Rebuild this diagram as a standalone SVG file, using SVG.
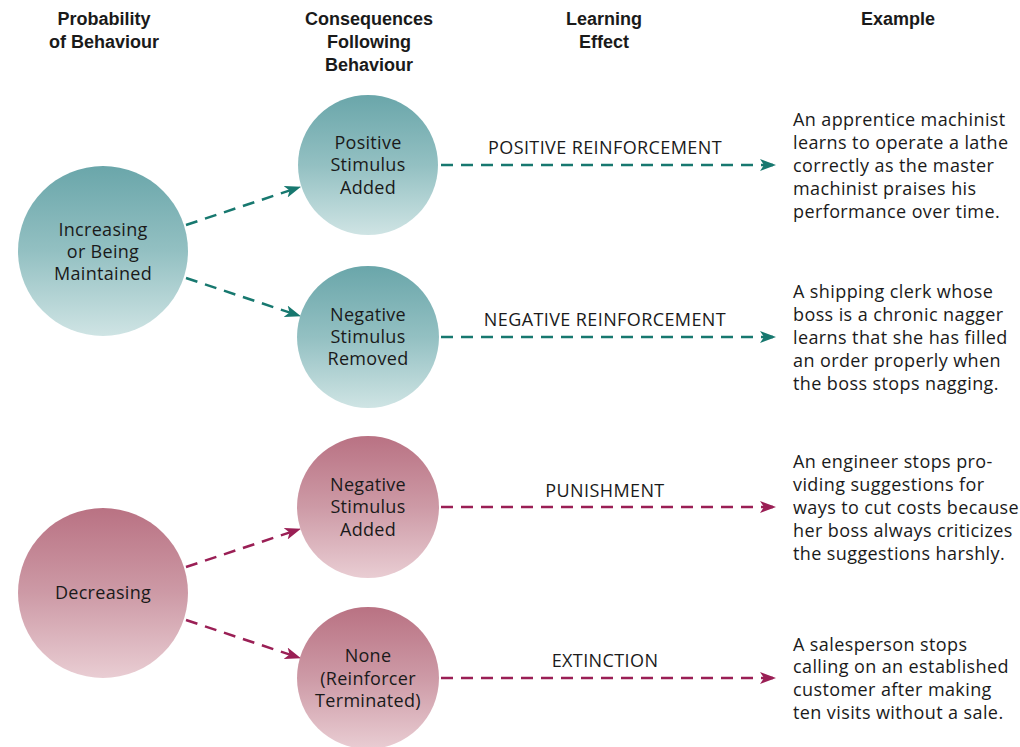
<svg xmlns="http://www.w3.org/2000/svg" width="1020" height="747" viewBox="0 0 1020 747">
<defs>
<linearGradient id="gTeal" x1="0" y1="0" x2="0" y2="1">
<stop offset="0" stop-color="#6aa6aa"/>
<stop offset="0.5" stop-color="#93c0c2"/>
<stop offset="1" stop-color="#cfe4e4"/>
</linearGradient>
<linearGradient id="gPink" x1="0" y1="0" x2="0" y2="1">
<stop offset="0" stop-color="#b97283"/>
<stop offset="0.5" stop-color="#cd9aa6"/>
<stop offset="1" stop-color="#e9cdd3"/>
</linearGradient>
<marker id="aTeal" viewBox="0 0 16 12" refX="15" refY="6" markerWidth="16" markerHeight="12" markerUnits="userSpaceOnUse" orient="auto">
<path d="M0,0 L16,6 L0,12 L4,6 Z" fill="#17786f"/>
</marker>
<marker id="aPink" viewBox="0 0 16 12" refX="15" refY="6" markerWidth="16" markerHeight="12" markerUnits="userSpaceOnUse" orient="auto">
<path d="M0,0 L16,6 L0,12 L4,6 Z" fill="#9a1f55"/>
</marker>
</defs>
<style>
text{font-family:"Open Sans","Noto Sans","Liberation Sans",sans-serif;fill:#1a1a1a;}
.hd{font-family:"Liberation Sans","Noto Sans",sans-serif;font-weight:bold;font-size:18px;text-anchor:middle;}
.nd{font-size:18px;letter-spacing:0.3px;text-anchor:middle;}
.lb{font-size:18px;letter-spacing:0.4px;text-anchor:middle;}
.ex{font-size:18px;letter-spacing:0.4px;}
.t{fill:none;stroke:#17786f;stroke-width:2.5;stroke-dasharray:12 8;marker-end:url(#aTeal);}
.p{fill:none;stroke:#9a1f55;stroke-width:2.5;stroke-dasharray:12 8;marker-end:url(#aPink);}
</style>
<rect width="1020" height="747" fill="#ffffff"/>
<g id="headers">
<text class="hd" x="104" y="25">Probability</text>
<text class="hd" x="104" y="48">of Behaviour</text>
<text class="hd" x="369" y="25">Consequences</text>
<text class="hd" x="369" y="48">Following</text>
<text class="hd" x="369" y="71">Behaviour</text>
<text class="hd" x="604" y="25">Learning</text>
<text class="hd" x="604" y="48">Effect</text>
<text class="hd" x="898" y="25">Example</text>
</g>
<g id="connectors">
<line class="t" x1="186" y1="225" x2="300" y2="187"/>
<line class="t" x1="186" y1="278" x2="300" y2="316"/>
<line class="p" x1="186" y1="567" x2="300" y2="529"/>
<line class="p" x1="186" y1="620" x2="300" y2="658"/>
<line class="t" x1="441" y1="165" x2="775" y2="165"/>
<line class="t" x1="441" y1="337" x2="775" y2="337"/>
<line class="p" x1="441" y1="507" x2="775" y2="507"/>
<line class="p" x1="441" y1="678" x2="775" y2="678"/>
<text class="lb" x="605" y="154">POSITIVE REINFORCEMENT</text>
<text class="lb" x="605" y="326">NEGATIVE REINFORCEMENT</text>
<text class="lb" x="605" y="497">PUNISHMENT</text>
<text class="lb" x="605" y="667">EXTINCTION</text>
</g>
<g id="increasing">
<circle cx="103" cy="251" r="85" fill="url(#gTeal)"/>
<text class="nd" x="103" y="236">Increasing</text>
<text class="nd" x="103" y="258">or Being</text>
<text class="nd" x="103" y="280">Maintained</text>
</g>
<g id="decreasing">
<circle cx="103" cy="593" r="85" fill="url(#gPink)"/>
<text class="nd" x="103" y="599">Decreasing</text>
</g>
<g id="positive-added">
<circle cx="368" cy="165" r="70" fill="url(#gTeal)"/>
<text class="nd" x="368" y="149">Positive</text>
<text class="nd" x="368" y="171">Stimulus</text>
<text class="nd" x="368" y="194">Added</text>
</g>
<g id="negative-removed">
<circle cx="368" cy="337" r="71" fill="url(#gTeal)"/>
<text class="nd" x="368" y="321">Negative</text>
<text class="nd" x="368" y="343">Stimulus</text>
<text class="nd" x="368" y="365">Removed</text>
</g>
<g id="negative-added">
<circle cx="368" cy="507" r="71" fill="url(#gPink)"/>
<text class="nd" x="368" y="491">Negative</text>
<text class="nd" x="368" y="513">Stimulus</text>
<text class="nd" x="368" y="536">Added</text>
</g>
<g id="none-terminated">
<circle cx="368" cy="678" r="71" fill="url(#gPink)"/>
<text class="nd" x="368" y="662">None</text>
<text class="nd" x="368" y="685">(Reinforcer</text>
<text class="nd" x="368" y="707">Terminated)</text>
</g>
<g id="example1">
<text class="ex" x="793" y="126">An apprentice machinist</text>
<text class="ex" x="793" y="149">learns to operate a lathe</text>
<text class="ex" x="793" y="172">correctly as the master</text>
<text class="ex" x="793" y="195">machinist praises his</text>
<text class="ex" x="793" y="218">performance over time.</text>
</g>
<g id="example2">
<text class="ex" x="793" y="298">A shipping clerk whose</text>
<text class="ex" x="793" y="321">boss is a chronic nagger</text>
<text class="ex" x="793" y="344">learns that she has filled</text>
<text class="ex" x="793" y="367">an order properly when</text>
<text class="ex" x="793" y="390">the boss stops nagging.</text>
</g>
<g id="example3">
<text class="ex" x="793" y="468">An engineer stops pro-</text>
<text class="ex" x="793" y="491">viding suggestions for</text>
<text class="ex" x="793" y="514">ways to cut costs because</text>
<text class="ex" x="793" y="537">her boss always criticizes</text>
<text class="ex" x="793" y="560">the suggestions harshly.</text>
</g>
<g id="example4">
<text class="ex" x="793" y="651">A salesperson stops</text>
<text class="ex" x="793" y="673">calling on an established</text>
<text class="ex" x="793" y="696">customer after making</text>
<text class="ex" x="793" y="719">ten visits without a sale.</text>
</g>
</svg>
